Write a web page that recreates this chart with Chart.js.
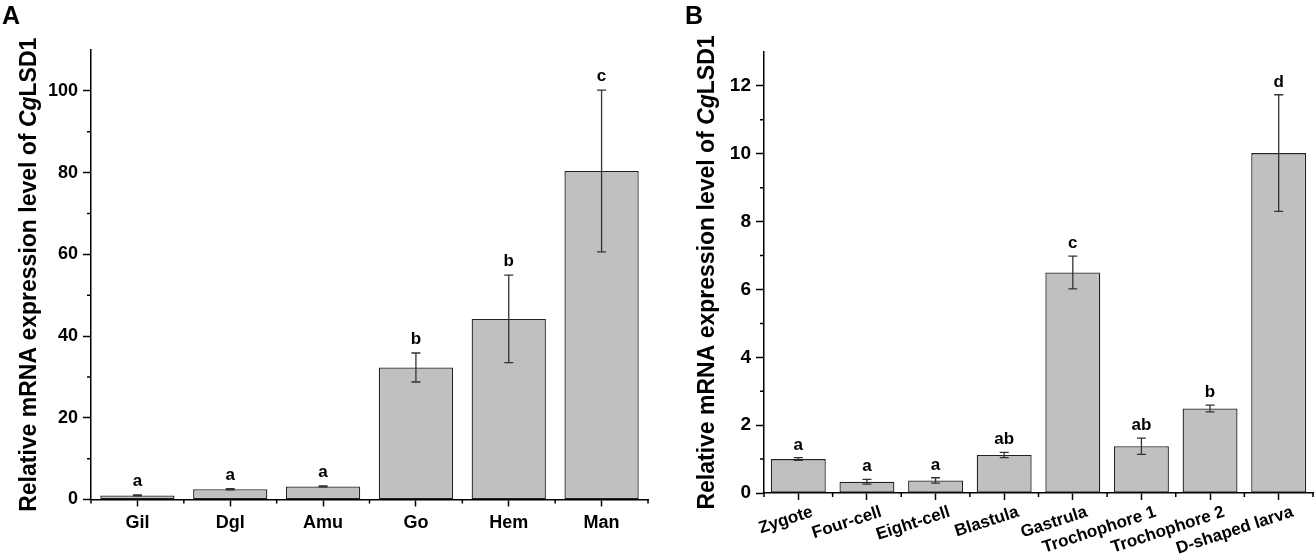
<!DOCTYPE html>
<html>
<head>
<meta charset="utf-8">
<script src="https://cdn.jsdelivr.net/npm/chart.js@4/dist/chart.umd.min.js"></script>
<style>
  html, body { margin: 0; padding: 0; background: #fff; }
  #wrap { position: relative; width: 1316px; height: 554px; }
  .panel { position: absolute; top: 0; width: 658px; height: 554px; }
</style>
</head>
<body>
<div id="wrap">
  <div class="panel" style="left:0"><canvas id="chartA" width="658" height="554"></canvas></div>
  <div class="panel" style="left:658px"><canvas id="chartB" width="658" height="554"></canvas></div>
</div>
<script>
// panel A - tissues
var tissueLabels = ['Gil', 'Dgl', 'Amu', 'Go', 'Hem', 'Man'];
var tissueMeans = [1.0, 2.5, 3.2, 32.3, 44.2, 80.4];
var tissueErrors = [0.12, 0.15, 0.1, 3.55, 10.7, 19.8];
var tissueLetters = ['a', 'a', 'a', 'b', 'b', 'c'];
var tissueYTicks = [0, 20, 40, 60, 80, 100];
var tissueYMinor = [10, 30, 50, 70, 90];

// panel B - development stages
var stageLabels = ['Zygote', 'Four-cell', 'Eight-cell', 'Blastula', 'Gastrula', 'Trochophore 1', 'Trochophore 2', 'D-shaped larva'];
var stageMeans = [1.0, 0.33, 0.37, 1.12, 6.5, 1.38, 2.49, 10.02];
var stageErrors = [0.04, 0.07, 0.08, 0.08, 0.48, 0.24, 0.1, 1.72];
var stageLetters = ['a', 'a', 'a', 'ab', 'c', 'ab', 'b', 'd'];
var stageYTicks = [0, 2, 4, 6, 8, 10, 12];
var stageYMinor = [1, 3, 5, 7, 9, 11];

var FONT = '"Liberation Sans", Arial, sans-serif';

var decorPlugin = {
    id: 'decor',
    afterDatasetsDraw: function (chart, args, o) {
        var ctx = chart.ctx;
        var y = chart.scales.y;
        var meta = chart.getDatasetMeta(0);
        ctx.save();
        ctx.strokeStyle = '#333';
        ctx.lineWidth = 1.3;
        ctx.fillStyle = '#000';
        ctx.font = 'bold 17px ' + FONT;
        ctx.textAlign = 'center';
        ctx.textBaseline = 'alphabetic';
        o.means.forEach(function (m, i) {
            var px = meta.data[i].x;
            var top = y.getPixelForValue(m + o.errors[i]);
            var bot = y.getPixelForValue(m - o.errors[i]);
            ctx.beginPath();
            ctx.moveTo(px, top); ctx.lineTo(px, bot);
            ctx.moveTo(px - o.cap, top); ctx.lineTo(px + o.cap, top);
            ctx.moveTo(px - o.cap, bot); ctx.lineTo(px + o.cap, bot);
            ctx.stroke();
            ctx.fillText(o.letters[i], px, top - o.gap);
        });
        ctx.restore();
    },
    afterDraw: function (chart, args, o) {
        var ctx = chart.ctx;
        var x = chart.scales.x, y = chart.scales.y;
        var area = chart.chartArea;
        ctx.save();
        // minor ticks
        ctx.strokeStyle = '#000';
        ctx.lineWidth = 1.5;
        ctx.beginPath();
        o.yMinor.forEach(function (v) {
            var py = y.getPixelForValue(v);
            ctx.moveTo(area.left - 4, py); ctx.lineTo(area.left, py);
        });
        for (var i = 0; i <= o.means.length; i++) {
            var px = x.getPixelForValue(i - 0.5);
            ctx.moveTo(px, area.bottom); ctx.lineTo(px, area.bottom + 4);
        }
        ctx.stroke();

        // y title with italic "Cg"
        var parts = [
            ['bold 23px ' + FONT, 'Relative mRNA expression level of '],
            ['italic bold 23px ' + FONT, 'Cg'],
            ['bold 23px ' + FONT, 'LSD1']
        ];
        var total = 0;
        parts.forEach(function (p) { ctx.font = p[0]; total += ctx.measureText(p[1]).width; });
        ctx.translate(o.titleX, (area.top + area.bottom) / 2);
        ctx.rotate(-Math.PI / 2);
        ctx.fillStyle = '#000';
        ctx.textAlign = 'left';
        ctx.textBaseline = 'alphabetic';
        var cx = -total / 2;
        parts.forEach(function (p) {
            ctx.font = p[0];
            ctx.fillText(p[1], cx, 0);
            cx += ctx.measureText(p[1]).width;
        });
        ctx.setTransform(1, 0, 0, 1, 0, 0);
        ctx.restore();

        ctx.save();
        ctx.fillStyle = '#000';
        ctx.font = 'bold 25px ' + FONT;
        ctx.textBaseline = 'alphabetic';
        ctx.fillText(o.panel, o.panelX, 24);
        ctx.restore();
    }
};

function makePanel(id, p) {
    return new Chart(document.getElementById(id), {
        type: 'bar',
        data: {
            labels: p.labels,
            datasets: [{
                data: p.means,
                backgroundColor: '#c0c0c0',
                borderColor: '#222',
                borderWidth: 1.3,
                borderSkipped: false,
                barPercentage: 0.8,
                categoryPercentage: 1.0
            }]
        },
        plugins: [decorPlugin],
        options: {
            responsive: false,
            animation: false,
            devicePixelRatio: 1,
            layout: {padding: {left: 0, top: p.top, right: p.right, bottom: 0}},
            plugins: {
                legend: {display: false},
                tooltip: {enabled: false},
                decor: {
                    means: p.means, errors: p.errors, letters: p.letters,
                    yMinor: p.yMinor, cap: 4.5, gap: p.gap,
                    titleX: p.titleX, panel: p.panel, panelX: p.panelX
                }
            },
            scales: {
                x: {
                    offset: true,
                    grid: {offset: false, drawOnChartArea: false, tickLength: 7, tickColor: '#000', tickWidth: 1.5},
                    border: {color: '#000', width: 1.5},
                    ticks: {
                        color: '#000',
                        font: {family: FONT, weight: 'bold', size: p.xFont},
                        autoSkip: false,
                        minRotation: p.rotation,
                        maxRotation: p.rotation,
                        padding: p.xPad,
                        labelOffset: p.labelOffset
                    },
                    afterFit: function (s) { s.height = p.xHeight; s.paddingLeft = 0; s.paddingRight = 0; }
                },
                y: {
                    min: 0,
                    max: p.yMax,
                    afterBuildTicks: function (s) { s.ticks = p.yTicks.map(function (v) { return {value: v}; }); },
                    grid: {drawOnChartArea: false, tickLength: 8, tickColor: '#000', tickWidth: 1.5},
                    border: {color: '#000', width: 1.5},
                    ticks: {color: '#000', font: {family: FONT, weight: 'bold', size: p.yFont}, padding: 5},
                    afterFit: function (s) { s.width = p.yWidth; }
                }
            }
        }
    });
}

makePanel('chartA', {
    labels: tissueLabels, means: tissueMeans, errors: tissueErrors, letters: tissueLetters,
    yTicks: tissueYTicks, yMinor: tissueYMinor, yMax: 110,
    top: 50, right: 10, yWidth: 91, xHeight: 54.5,
    xFont: 18, yFont: 18, rotation: 0, xPad: 6, labelOffset: 0,
    gap: 9, titleX: 36, panel: 'A', panelX: 2
});

makePanel('chartB', {
    labels: stageLabels, means: stageMeans, errors: stageErrors, letters: stageLetters,
    yTicks: stageYTicks, yMinor: stageYMinor, yMax: 13,
    top: 52, right: 3, yWidth: 106, xHeight: 61,
    xFont: 17, yFont: 19, rotation: 18, xPad: 2, labelOffset: 14,
    gap: 8, titleX: 56, panel: 'B', panelX: 27
});
</script>
</body>
</html>
